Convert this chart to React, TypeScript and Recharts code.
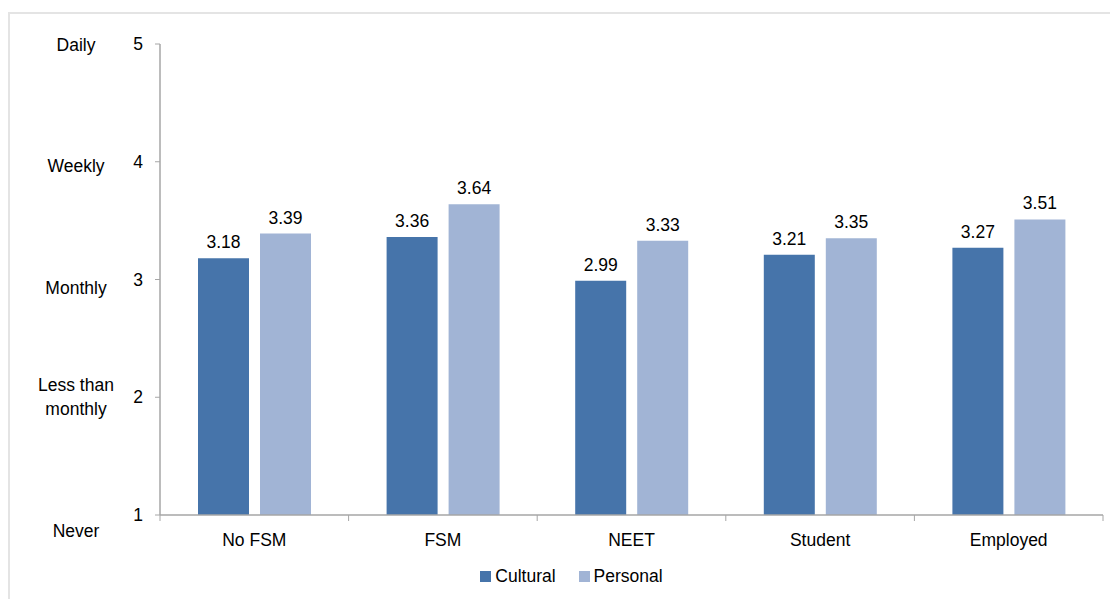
import { BarChart, Bar, XAxis, YAxis, Legend, LabelList } from "recharts"

const categories = ["No FSM", "FSM", "NEET", "Student", "Employed"]
const cultural = [3.18, 3.36, 2.99, 3.21, 3.27]
const personal = [3.39, 3.64, 3.33, 3.35, 3.51]
const yTicks = [1, 2, 3, 4, 5]
const yWords = ["Never", "Less than\nmonthly", "Monthly", "Weekly", "Daily"]

const data = categories.map((name, i) => ({
  name,
  Cultural: cultural[i],
  Personal: personal[i],
}))

const FONT = "'Liberation Sans', Arial, sans-serif"
const FS = 17.5
const AXIS = "#a6a6a6"
const COLORS = { Cultural: "#4674aa", Personal: "#a1b4d5" }

// word label offset (px) relative to the tick, as in the original layout
const wordOffset: Record<number, number> = { 1: 16, 2: 0, 3: 8, 4: 4, 5: 1 }

function YTick(props: any) {
  const { x, y, payload } = props
  const i = yTicks.indexOf(payload.value)
  const lines = yWords[i].split("\n")
  const dy = wordOffset[payload.value]
  return (
    <g>
      <text x={x - 10} y={y} dy={6} textAnchor="end" fontSize={FS} fill="#000" fontFamily={FONT}>
        {payload.value}
      </text>
      <text x={76} y={y + dy} textAnchor="middle" fontSize={FS} fill="#000" fontFamily={FONT}>
        {lines.map((l, k) => (
          <tspan key={k} x={76} dy={k === 0 ? 6 - (lines.length - 1) * 12 : 24}>
            {l}
          </tspan>
        ))}
      </text>
    </g>
  )
}

// category label plus tick marks on the category boundaries
function XTick(props: any) {
  const { x, y, payload, index, width } = props
  const band = width / categories.length
  const axisY = y - 8
  const last = index === categories.length - 1
  return (
    <g>
      <line x1={x - band / 2} x2={x - band / 2} y1={axisY} y2={axisY + 6} stroke={AXIS} />
      {last && <line x1={x + band / 2} x2={x + band / 2} y1={axisY} y2={axisY + 6} stroke={AXIS} />}
      <text x={x} y={y} dy={23} textAnchor="middle" fontSize={FS} fill="#000" fontFamily={FONT}>
        {payload.value}
      </text>
    </g>
  )
}

function LegendBox() {
  return (
    <div
      style={{
        display: "flex",
        justifyContent: "center",
        gap: 23,
        marginLeft: 40,
        fontFamily: FONT,
        fontSize: FS,
        color: "#000",
      }}
    >
      {(["Cultural", "Personal"] as const).map((k) => (
        <div key={k} style={{ display: "flex", alignItems: "center", gap: 4 }}>
          <span style={{ width: 11, height: 11, background: COLORS[k], display: "inline-block" }} />
          <span>{k}</span>
        </div>
      ))}
    </div>
  )
}

export default function App() {
  return (
    <div style={{ position: "absolute", left: 0, top: 0, width: 1110, height: 599, background: "#fff" }}>
      <div
        style={{
          position: "absolute",
          left: 8,
          top: 12,
          right: 0,
          bottom: 0,
          borderLeft: "2px solid #e4e4e4",
          borderTop: "2px solid #e4e4e4",
        }}
      />
      <BarChart
        width={1110}
        height={599}
        data={data}
        margin={{ top: 44, right: 7, left: 0, bottom: 0 }}
        barCategoryGap={38}
        barGap={11}
        style={{ position: "absolute", left: 0, top: 0 }}
      >
        <XAxis
          dataKey="name"
          height={54}
          axisLine={{ stroke: AXIS, strokeWidth: 1.5 }}
          tickLine={false}
          tick={<XTick />}
          interval={0}
        />
        <YAxis
          domain={[1, 5]}
          ticks={yTicks}
          width={160}
          axisLine={{ stroke: AXIS, strokeWidth: 1.5 }}
          tickLine={{ stroke: AXIS }}
          tickSize={5}
          tick={<YTick />}
          interval={0}
        />
        <Legend verticalAlign="bottom" height={30} wrapperStyle={{ bottom: 3 }} content={<LegendBox />} />
        <Bar dataKey="Cultural" fill={COLORS.Cultural} isAnimationActive={false}>
          <LabelList dataKey="Cultural" position="top" offset={10} fontSize={FS} fill="#000" fontFamily={FONT} />
        </Bar>
        <Bar dataKey="Personal" fill={COLORS.Personal} isAnimationActive={false}>
          <LabelList dataKey="Personal" position="top" offset={10} fontSize={FS} fill="#000" fontFamily={FONT} />
        </Bar>
      </BarChart>
    </div>
  )
}
